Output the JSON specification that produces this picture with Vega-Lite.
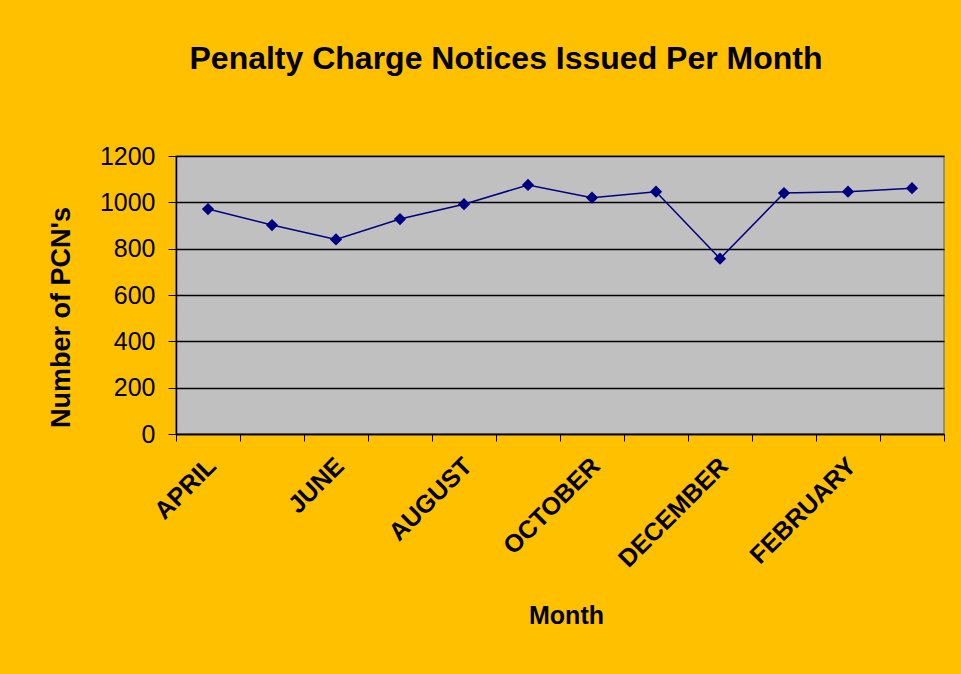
{
  "$schema": "https://vega.github.io/schema/vega-lite/v6.json",
  "width": 768,
  "height": 278,
  "autosize": {"type": "none"},
  "padding": {"left": 176, "top": 156, "right": 17, "bottom": 240},
  "background": "#FFC000",
  "title": {
    "text": "Penalty Charge Notices Issued Per Month",
    "font": "Liberation Sans",
    "fontSize": 32,
    "fontWeight": "bold",
    "color": "#000000",
    "anchor": "middle",
    "frame": "group",
    "dx": -54,
    "offset": 68
  },
  "config": {
    "font": "Liberation Sans",
    "view": {"fill": "#C0C0C0", "stroke": "#808080", "strokeWidth": 1.5}
  },
  "data": {
    "values": [
      {"month": "APRIL", "pcns": 971},
      {"month": "MAY", "pcns": 902},
      {"month": "JUNE", "pcns": 840},
      {"month": "JULY", "pcns": 928},
      {"month": "AUGUST", "pcns": 992},
      {"month": "SEPTEMBER", "pcns": 1075},
      {"month": "OCTOBER", "pcns": 1020},
      {"month": "NOVEMBER", "pcns": 1046},
      {"month": "DECEMBER", "pcns": 757},
      {"month": "JANUARY", "pcns": 1040},
      {"month": "FEBRUARY", "pcns": 1046},
      {"month": "MARCH", "pcns": 1061}
    ]
  },
  "encoding": {
    "x": {
      "field": "month",
      "type": "ordinal",
      "sort": null,
      "scale": {"type": "band", "paddingInner": 0, "paddingOuter": 0},
      "axis": {
        "title": "Month",
        "titleFontSize": 25,
        "titleFontWeight": "bold",
        "titleColor": "#000000",
        "titleBaseline": "alphabetic",
        "titleX": 390,
        "titleY": 189,
        "labelExpr": "indexof(['APRIL','JUNE','AUGUST','OCTOBER','DECEMBER','FEBRUARY'], datum.value) >= 0 ? datum.value : ''",
        "labelAngle": -45,
        "labelFontSize": 25,
        "labelFontWeight": "bold",
        "labelColor": "#000000",
        "labelPadding": 12,
        "labelOffset": -5,
        "labelOverlap": false,
        "tickBand": "extent",
        "tickSize": 7,
        "tickColor": "#000000",
        "domainColor": "#000000",
        "domainWidth": 1.5,
        "grid": false
      }
    },
    "y": {
      "field": "pcns",
      "type": "quantitative",
      "scale": {"domain": [0, 1200], "nice": false},
      "axis": {
        "title": "Number of PCN's",
        "titleFontSize": 27,
        "titleFontWeight": "bold",
        "titleColor": "#000000",
        "titleY": 161,
        "titlePadding": 24,
        "values": [0, 200, 400, 600, 800, 1000, 1200],
        "format": "d",
        "labelFontSize": 25,
        "labelColor": "#000000",
        "labelPadding": 13,
        "tickSize": 8,
        "tickColor": "#000000",
        "domainColor": "#000000",
        "domainWidth": 1.5,
        "grid": true,
        "gridColor": "#000000",
        "gridWidth": 1.5,
        "gridOpacity": 1
      }
    }
  },
  "layer": [
    {"mark": {"type": "line", "color": "#000080", "strokeWidth": 1.5}},
    {"mark": {"type": "point", "shape": "diamond", "filled": true, "color": "#000080", "size": 150, "opacity": 1}}
  ]
}
